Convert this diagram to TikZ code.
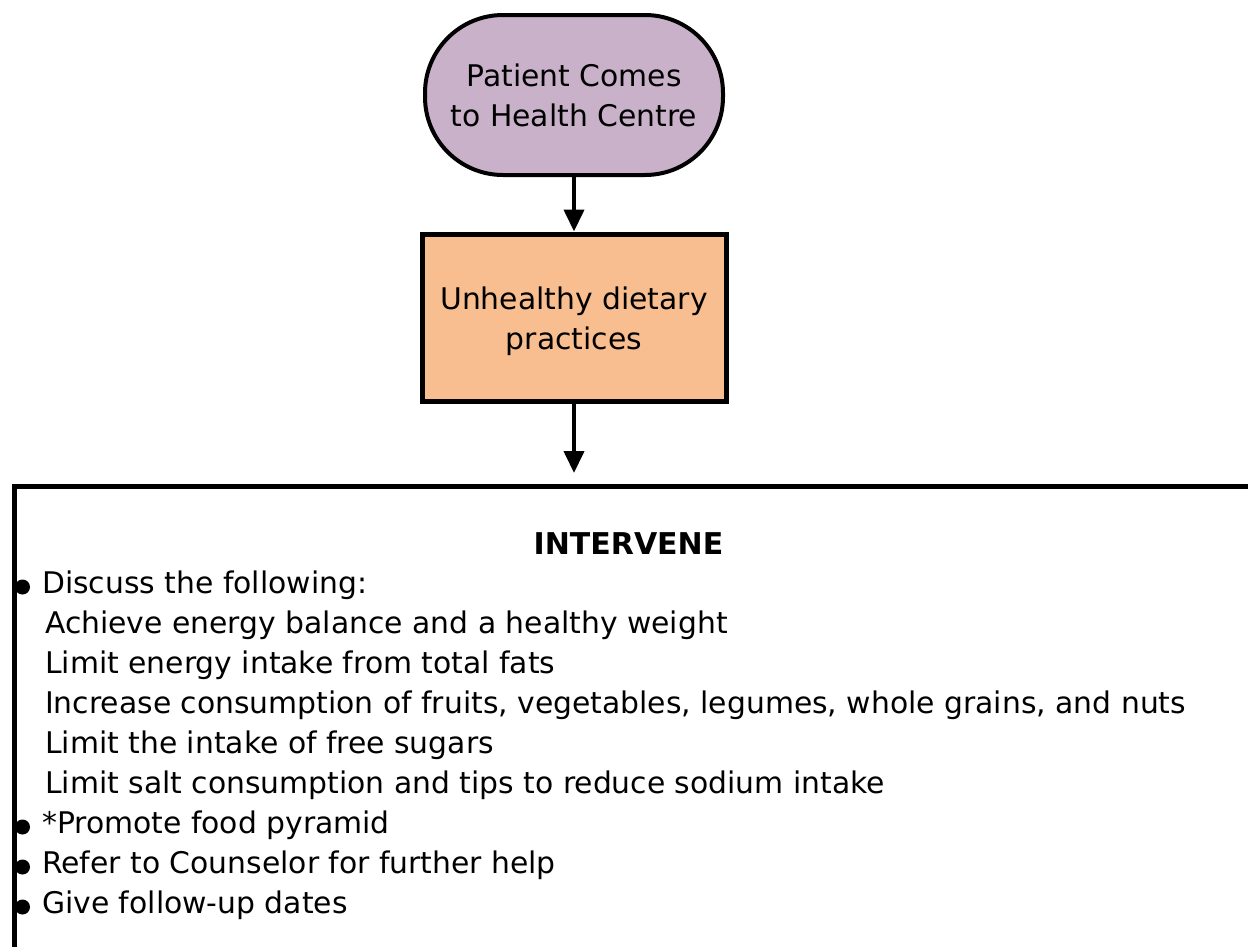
\documentclass[tikz,border=0pt]{standalone}
\usepackage{fontspec}
\setmainfont{DejaVu Sans}
\usetikzlibrary{arrows.meta}
\definecolor{lilac}{RGB}{201,178,201}
\definecolor{peach}{RGB}{248,190,143}
\begin{document}
\begin{tikzpicture}[x=1pt,y=-1pt,
  every node/.style={font=\fontsize{29.8}{40}\selectfont},
  stadium/.style={draw=black, line width=4pt, fill=lilac, rounded corners=78pt,
    minimum width=298pt, minimum height=160pt, align=center, inner sep=0pt},
  stepbox/.style={draw=black, line width=5pt, fill=peach,
    minimum width=304pt, minimum height=167pt, align=center, inner sep=0pt},
  bigbox/.style={draw=black, line width=5pt, minimum width=1238pt, minimum height=600pt,
    inner sep=0pt, anchor=north west},
  arrowline/.style={line width=4pt, -{Triangle[length=22pt,width=20pt]}},
  listline/.style={anchor=base west, inner sep=0pt},
  bul/.style={circle, fill=black, minimum size=15pt, inner sep=0pt},
]
\useasboundingbox (0,0) rectangle (1248,946);
\begin{scope}
\clip (0,0) rectangle (1248,946);
\node[stadium] (start) at (574,95) {Patient Comes\\to Health Centre};
\node[stepbox, text height=71pt] (diet) at (574,317.5) {Unhealthy dietary\\practices};
\node[bigbox] (box) at (11.5,484) {};
\draw[arrowline] (start) -- (diet);
\draw[arrowline, shorten >=11pt] (diet) -- (diet |- box.north);

\node[anchor=base, inner sep=0pt, font=\fontsize{30}{40}\selectfont\bfseries] (title) at (628.5,554) {INTERVENE};

\node[listline] (l1) at (42,593) {Discuss the following:};
\node[listline] (l2) at (45,633) {Achieve energy balance and a healthy weight};
\node[listline] (l3) at (45,673) {Limit energy intake from total fats};
\node[listline] (l4) at (45,713) {Increase consumption of fruits, vegetables, legumes, whole grains, and nuts};
\node[listline] (l5) at (45,753) {Limit the intake of free sugars};
\node[listline] (l6) at (45,793) {Limit salt consumption and tips to reduce sodium intake};
\node[listline] (l7) at (42,833) {*Promote food pyramid};
\node[listline] (l8) at (42,873) {Refer to Counselor for further help};
\node[listline] (l9) at (42,913) {Give follow-up dates};

\node[bul] (b1) at (22.5,587) {};
\node[bul] (b2) at (22.5,827) {};
\node[bul] (b3) at (22.5,867) {};
\node[bul] (b4) at (22.5,907) {};
\end{scope}
\end{tikzpicture}
\end{document}
